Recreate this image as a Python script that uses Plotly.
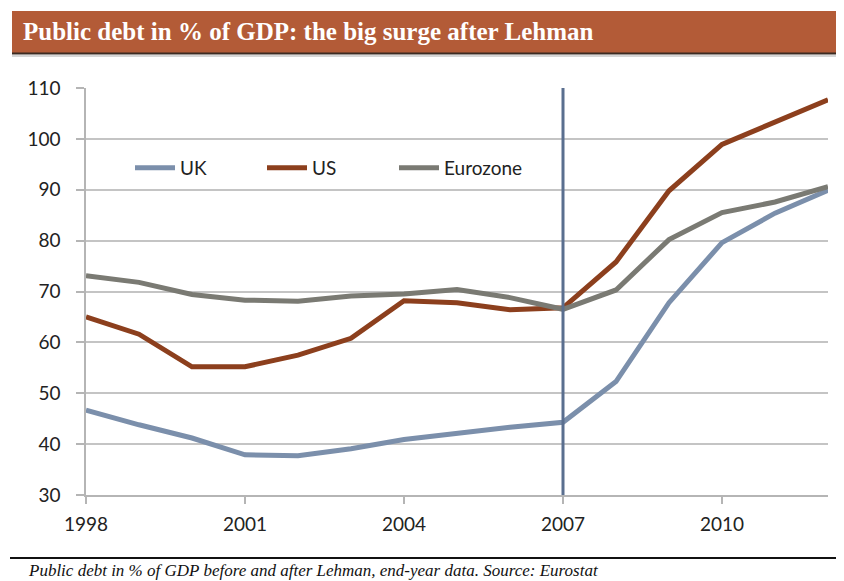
import plotly.graph_objects as go

years = list(range(1998, 2013))
uk = [46.7, 43.8, 41.2, 37.9, 37.7, 39.1, 40.9, 42.2, 43.3, 44.3, 52.3, 67.8, 79.6, 85.4, 89.9]
us = [65.0, 61.6, 55.2, 55.2, 57.5, 60.8, 68.2, 67.8, 66.4, 66.8, 75.8, 89.8, 98.9, 103.3, 107.7]
ez = [73.1, 71.8, 69.4, 68.3, 68.1, 69.1, 69.5, 70.4, 68.8, 66.5, 70.3, 80.2, 85.5, 87.6, 90.6]

title = "Public debt in % of GDP: the big surge after Lehman"
caption = "Public debt in % of GDP before and after Lehman, end-year data. Source: Eurostat"
xticks = [1998, 2001, 2004, 2007, 2010]
yticks = list(range(30, 111, 10))

OFF = 8  # page body margin
L, R, T, B = 86 - OFF, 828 - OFF, 88 - OFF, 495 - OFF
W, H = 844, 581 - OFF


def px(x):
    return (x - OFF - L) / (R - L)


def py(y):
    return (B - (y - OFF)) / (B - T)


fig = go.Figure()
fig.add_trace(go.Scatter(x=years, y=uk, name="UK", mode="lines",
                         line=dict(color="#7b8fab", width=5)))
fig.add_trace(go.Scatter(x=years, y=us, name="US", mode="lines",
                         line=dict(color="#8c3f1d", width=5)))
fig.add_trace(go.Scatter(x=years, y=ez, name="Eurozone", mode="lines",
                         line=dict(color="#7a7a73", width=5)))

shapes = [
    dict(type="line", xref="x", yref="y", x0=2007, x1=2007, y0=29.6, y1=110,
         line=dict(color="#5a6f8f", width=3)),
    dict(type="rect", xref="paper", yref="paper", x0=px(12), x1=px(860),
         y0=py(53), y1=py(11), fillcolor="#b35b37", line=dict(width=0), layer="above"),
    dict(type="line", xref="paper", yref="paper", x0=px(12), x1=px(860),
         y0=py(53.5), y1=py(53.5), line=dict(color="#3b2b22", width=2)),
    dict(type="line", xref="paper", yref="paper", x0=px(12), x1=px(860),
         y0=py(56), y1=py(56), line=dict(color="#d6d6d6", width=2)),
    dict(type="line", xref="paper", yref="paper", x0=px(10), x1=px(860),
         y0=py(558), y1=py(558), line=dict(color="#111111", width=2)),
]

annotations = [
    dict(text=title, xref="paper", yref="paper", x=px(21), y=py(32),
         xanchor="left", yanchor="middle", showarrow=False,
         font=dict(family="Liberation Serif", size=25, color="white", weight="bold")),
    dict(text=caption, xref="paper", yref="paper", x=px(26), y=py(570),
         xanchor="left", yanchor="middle", showarrow=False,
         font=dict(family="Liberation Serif", size=17, color="#111111", style="italic")),
]

fig.update_layout(
    width=W, height=H,
    margin=dict(l=L, r=W - R, t=T, b=H - B, pad=0),
    paper_bgcolor="white", plot_bgcolor="white",
    shapes=shapes, annotations=annotations,
    showlegend=True,
    legend=dict(orientation="h", x=px(130), y=py(168), xanchor="left", yanchor="middle",
                entrywidth=77, entrywidthmode="pixels", bgcolor="rgba(0,0,0,0)",
                font=dict(family="Lato", size=19, color="#222222"), itemwidth=40),
    xaxis=dict(range=[1998, 2012], tickvals=xticks, ticktext=[str(v) for v in xticks],
               showgrid=False, showline=True, linecolor="#b5b5b5", linewidth=1.5,
               ticks="outside", ticklen=7, tickcolor="#b5b5b5", tickwidth=1.5,
               ticklabelstandoff=4,
               tickfont=dict(family="Lato", size=19, color="#222222"),
               zeroline=False, fixedrange=True),
    yaxis=dict(range=[30, 110], tickvals=yticks, showgrid=True, gridcolor="#c4c4c4",
               gridwidth=1.5, showline=True, linecolor="#b5b5b5", linewidth=1.5,
               ticks="outside", ticklen=8, tickcolor="#b5b5b5", tickwidth=1.5,
               ticklabelstandoff=12,
               tickfont=dict(family="Lato", size=19, color="#222222"),
               zeroline=False, fixedrange=True),
)

fig.write_html("out.html")
